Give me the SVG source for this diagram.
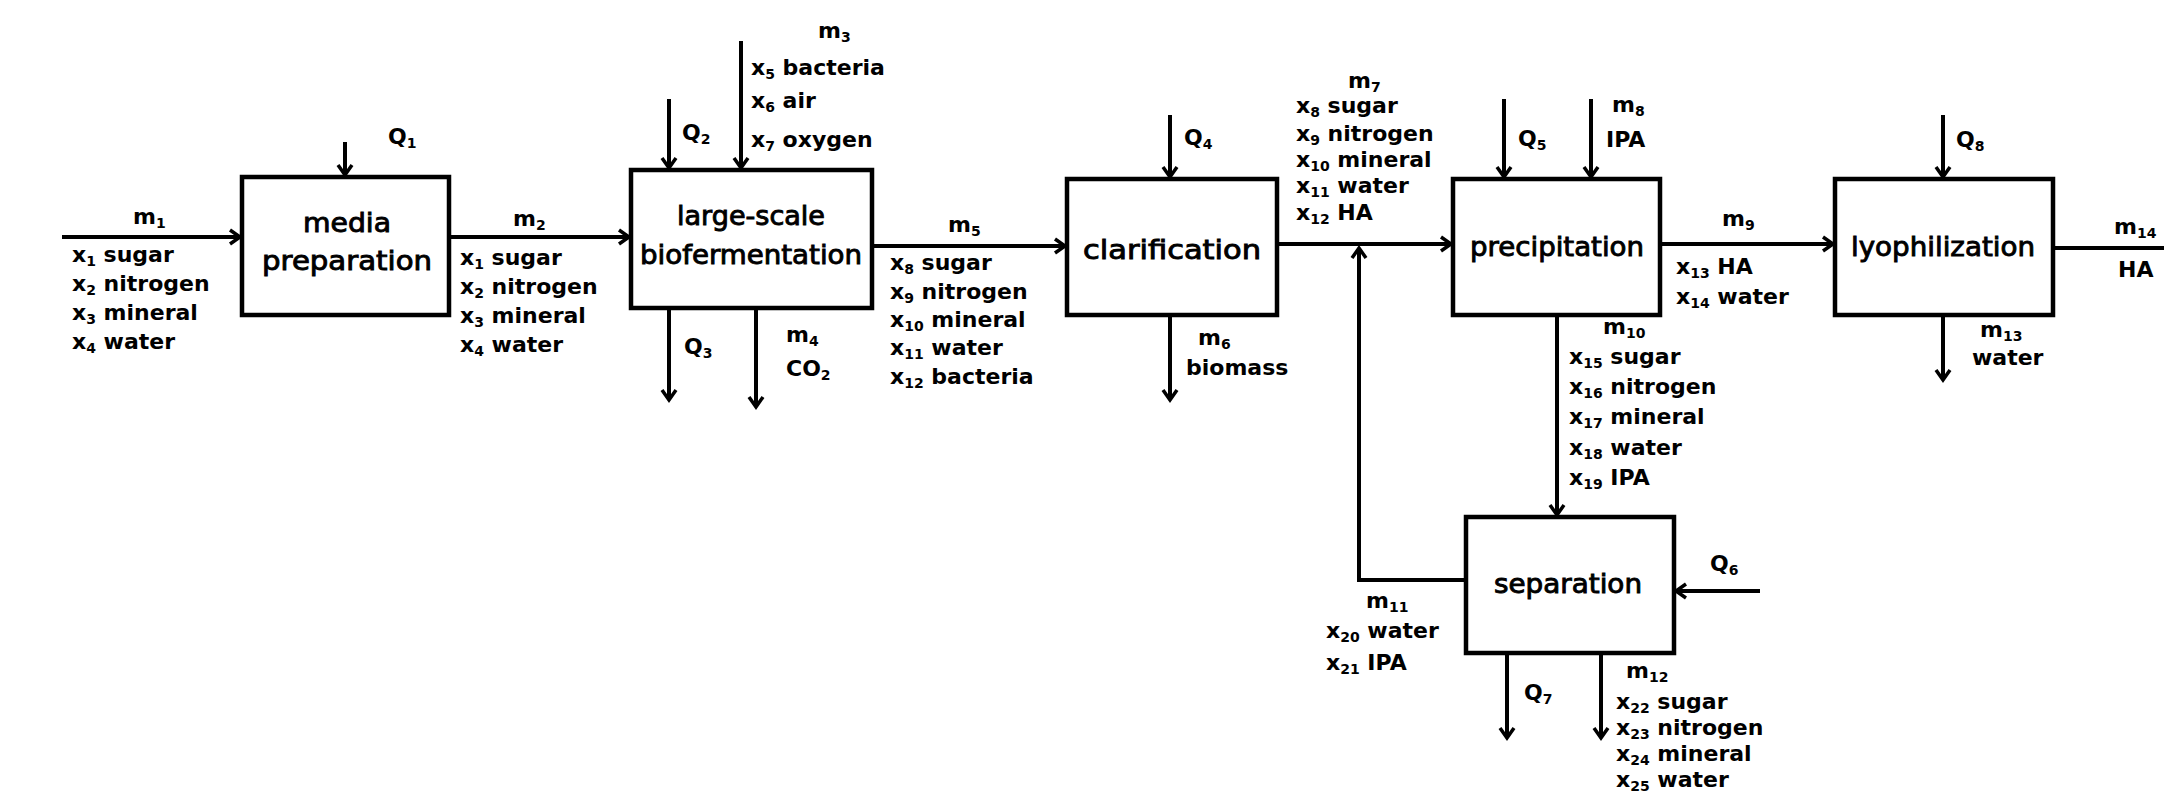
<svg xmlns="http://www.w3.org/2000/svg" width="2164" height="797" viewBox="0 0 2164 797">
<defs>
<marker id="ah" markerWidth="24" markerHeight="24" refX="13" refY="9" orient="auto" markerUnits="userSpaceOnUse"><path d="M3,2 L13,9 L3,16" fill="none" stroke="#000" stroke-width="3.5" stroke-linejoin="miter"/></marker>
<style>
.box{fill:#fff;stroke:#000;stroke-width:4.5}
.ln{fill:none;stroke:#000;stroke-width:4}
.arr{fill:none;stroke:#000;stroke-width:4;marker-end:url(#ah)}
text{font-family:"DejaVu Sans","Liberation Sans",sans-serif;font-weight:bold;font-size:22px;fill:#000}
.bt{font-size:26px;font-weight:normal;text-anchor:middle;stroke:#000;stroke-width:0.9}
.s{font-size:14px}
</style>
</defs>
<rect width="2164" height="797" fill="#fff"/>
<g id="connectors">
<line class="arr" x1="62" y1="237" x2="240" y2="237"/>
<line class="arr" x1="345" y1="142" x2="345" y2="175"/>
<line class="arr" x1="449" y1="237" x2="629" y2="237"/>
<line class="arr" x1="669" y1="99" x2="669" y2="168"/>
<line class="arr" x1="741" y1="41" x2="741" y2="168"/>
<line class="arr" x1="669" y1="308" x2="669" y2="400"/>
<line class="arr" x1="756" y1="308" x2="756" y2="407"/>
<line class="arr" x1="872" y1="246" x2="1065" y2="246"/>
<line class="arr" x1="1170" y1="115" x2="1170" y2="177"/>
<line class="arr" x1="1170" y1="315" x2="1170" y2="400"/>
<line class="arr" x1="1277" y1="244" x2="1451" y2="244"/>
<path class="arr" d="M1466,580 H1359 V248"/>
<line class="arr" x1="1504" y1="99" x2="1504" y2="177"/>
<line class="arr" x1="1591" y1="99" x2="1591" y2="177"/>
<line class="arr" x1="1660" y1="244" x2="1833" y2="244"/>
<line class="arr" x1="1943" y1="115" x2="1943" y2="177"/>
<line class="arr" x1="1943" y1="315" x2="1943" y2="380"/>
<line class="ln" x1="2053" y1="248" x2="2164" y2="248"/>
<line class="arr" x1="1557" y1="315" x2="1557" y2="515"/>
<line class="arr" x1="1760" y1="591" x2="1676" y2="591"/>
<line class="arr" x1="1507" y1="653" x2="1507" y2="738"/>
<line class="arr" x1="1601" y1="653" x2="1601" y2="738"/>
</g>
<g id="media-preparation">
<rect class="box" x="242" y="177" width="207" height="138"/>
<text class="bt" x="347" y="232" textLength="88" lengthAdjust="spacingAndGlyphs">media</text>
<text class="bt" x="347" y="270" textLength="170" lengthAdjust="spacingAndGlyphs">preparation</text>
</g>
<g id="biofermentation">
<rect class="box" x="631" y="170" width="241" height="138"/>
<text class="bt" x="751" y="225" textLength="148" lengthAdjust="spacingAndGlyphs">large-scale</text>
<text class="bt" x="751" y="264" textLength="222" lengthAdjust="spacingAndGlyphs">biofermentation</text>
</g>
<g id="clarification">
<rect class="box" x="1067" y="179" width="210" height="136"/>
<text class="bt" x="1172" y="259" textLength="178" lengthAdjust="spacingAndGlyphs">clarification</text>
</g>
<g id="precipitation">
<rect class="box" x="1453" y="179" width="207" height="136"/>
<text class="bt" x="1557" y="256" textLength="174" lengthAdjust="spacingAndGlyphs">precipitation</text>
</g>
<g id="lyophilization">
<rect class="box" x="1835" y="179" width="218" height="136"/>
<text class="bt" x="1943" y="256" textLength="184" lengthAdjust="spacingAndGlyphs">lyophilization</text>
</g>
<g id="separation">
<rect class="box" x="1466" y="517" width="208" height="136"/>
<text class="bt" x="1568" y="593" textLength="148" lengthAdjust="spacingAndGlyphs">separation</text>
</g>
<g id="labels">
<text x="133" y="224">m<tspan class="s" dy="4">1</tspan></text>
<text x="72" y="262">x<tspan class="s" dy="4">1</tspan><tspan dy="-4"> sugar</tspan></text>
<text x="72" y="291">x<tspan class="s" dy="4">2</tspan><tspan dy="-4"> nitrogen</tspan></text>
<text x="72" y="320">x<tspan class="s" dy="4">3</tspan><tspan dy="-4"> mineral</tspan></text>
<text x="72" y="349">x<tspan class="s" dy="4">4</tspan><tspan dy="-4"> water</tspan></text>
<text x="388" y="144">Q<tspan class="s" dy="4">1</tspan></text>
<text x="513" y="226">m<tspan class="s" dy="4">2</tspan></text>
<text x="460" y="265">x<tspan class="s" dy="4">1</tspan><tspan dy="-4"> sugar</tspan></text>
<text x="460" y="294">x<tspan class="s" dy="4">2</tspan><tspan dy="-4"> nitrogen</tspan></text>
<text x="460" y="323">x<tspan class="s" dy="4">3</tspan><tspan dy="-4"> mineral</tspan></text>
<text x="460" y="352">x<tspan class="s" dy="4">4</tspan><tspan dy="-4"> water</tspan></text>
<text x="682" y="140">Q<tspan class="s" dy="4">2</tspan></text>
<text x="818" y="38">m<tspan class="s" dy="4">3</tspan></text>
<text x="751" y="75">x<tspan class="s" dy="4">5</tspan><tspan dy="-4"> bacteria</tspan></text>
<text x="751" y="108">x<tspan class="s" dy="4">6</tspan><tspan dy="-4"> air</tspan></text>
<text x="751" y="147">x<tspan class="s" dy="4">7</tspan><tspan dy="-4"> oxygen</tspan></text>
<text x="684" y="354">Q<tspan class="s" dy="4">3</tspan></text>
<text x="786" y="342">m<tspan class="s" dy="4">4</tspan></text>
<text x="786" y="376">CO<tspan class="s" dy="4">2</tspan></text>
<text x="948" y="232">m<tspan class="s" dy="4">5</tspan></text>
<text x="890" y="270">x<tspan class="s" dy="4">8</tspan><tspan dy="-4"> sugar</tspan></text>
<text x="890" y="299">x<tspan class="s" dy="4">9</tspan><tspan dy="-4"> nitrogen</tspan></text>
<text x="890" y="327">x<tspan class="s" dy="4">10</tspan><tspan dy="-4"> mineral</tspan></text>
<text x="890" y="355">x<tspan class="s" dy="4">11</tspan><tspan dy="-4"> water</tspan></text>
<text x="890" y="384">x<tspan class="s" dy="4">12</tspan><tspan dy="-4"> bacteria</tspan></text>
<text x="1184" y="145">Q<tspan class="s" dy="4">4</tspan></text>
<text x="1198" y="345">m<tspan class="s" dy="4">6</tspan></text>
<text x="1186" y="375">biomass</text>
<text x="1348" y="88">m<tspan class="s" dy="4">7</tspan></text>
<text x="1296" y="113">x<tspan class="s" dy="4">8</tspan><tspan dy="-4"> sugar</tspan></text>
<text x="1296" y="141">x<tspan class="s" dy="4">9</tspan><tspan dy="-4"> nitrogen</tspan></text>
<text x="1296" y="167">x<tspan class="s" dy="4">10</tspan><tspan dy="-4"> mineral</tspan></text>
<text x="1296" y="193">x<tspan class="s" dy="4">11</tspan><tspan dy="-4"> water</tspan></text>
<text x="1296" y="220">x<tspan class="s" dy="4">12</tspan><tspan dy="-4"> HA</tspan></text>
<text x="1518" y="146">Q<tspan class="s" dy="4">5</tspan></text>
<text x="1612" y="112">m<tspan class="s" dy="4">8</tspan></text>
<text x="1606" y="147">IPA</text>
<text x="1722" y="226">m<tspan class="s" dy="4">9</tspan></text>
<text x="1676" y="274">x<tspan class="s" dy="4">13</tspan><tspan dy="-4"> HA</tspan></text>
<text x="1676" y="304">x<tspan class="s" dy="4">14</tspan><tspan dy="-4"> water</tspan></text>
<text x="1956" y="147">Q<tspan class="s" dy="4">8</tspan></text>
<text x="1980" y="337">m<tspan class="s" dy="4">13</tspan></text>
<text x="1972" y="365">water</text>
<text x="2114" y="234">m<tspan class="s" dy="4">14</tspan></text>
<text x="2118" y="277">HA</text>
<text x="1603" y="334">m<tspan class="s" dy="4">10</tspan></text>
<text x="1569" y="364">x<tspan class="s" dy="4">15</tspan><tspan dy="-4"> sugar</tspan></text>
<text x="1569" y="394">x<tspan class="s" dy="4">16</tspan><tspan dy="-4"> nitrogen</tspan></text>
<text x="1569" y="424">x<tspan class="s" dy="4">17</tspan><tspan dy="-4"> mineral</tspan></text>
<text x="1569" y="455">x<tspan class="s" dy="4">18</tspan><tspan dy="-4"> water</tspan></text>
<text x="1569" y="485">x<tspan class="s" dy="4">19</tspan><tspan dy="-4"> IPA</tspan></text>
<text x="1710" y="571">Q<tspan class="s" dy="4">6</tspan></text>
<text x="1366" y="608">m<tspan class="s" dy="4">11</tspan></text>
<text x="1326" y="638">x<tspan class="s" dy="4">20</tspan><tspan dy="-4"> water</tspan></text>
<text x="1326" y="670">x<tspan class="s" dy="4">21</tspan><tspan dy="-4"> IPA</tspan></text>
<text x="1524" y="700">Q<tspan class="s" dy="4">7</tspan></text>
<text x="1626" y="678">m<tspan class="s" dy="4">12</tspan></text>
<text x="1616" y="709">x<tspan class="s" dy="4">22</tspan><tspan dy="-4"> sugar</tspan></text>
<text x="1616" y="735">x<tspan class="s" dy="4">23</tspan><tspan dy="-4"> nitrogen</tspan></text>
<text x="1616" y="761">x<tspan class="s" dy="4">24</tspan><tspan dy="-4"> mineral</tspan></text>
<text x="1616" y="787">x<tspan class="s" dy="4">25</tspan><tspan dy="-4"> water</tspan></text>
</g>
</svg>
